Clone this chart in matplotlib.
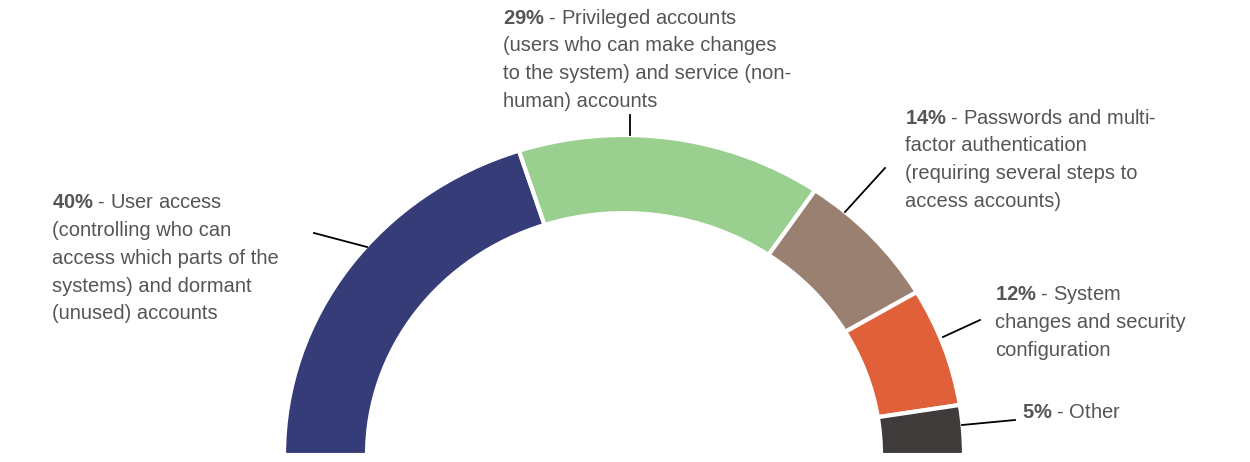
import matplotlib.pyplot as plt
from matplotlib.patches import Wedge
from matplotlib.transforms import Affine2D

plt.rcParams["font.family"] = "Liberation Sans"
plt.rcParams["mathtext.fontset"] = "custom"
plt.rcParams["mathtext.bf"] = "Liberation Sans:bold"
plt.rcParams["mathtext.rm"] = "Liberation Sans"

W, H = 1250, 462

shares = [40, 29, 14, 12, 5]
colors = ["#353c78", "#99cf8f", "#9a8070", "#e0603a", "#403b3b"]
labels = [
    "User access\n(controlling who can\naccess which parts of the\nsystems) and dormant\n(unused) accounts",
    "Privileged accounts\n(users who can make changes\nto the system) and service (non-\nhuman) accounts",
    "Passwords and multi-\nfactor authentication\n(requiring several steps to\naccess accounts)",
    "System\nchanges and security\nconfiguration",
    "Other",
]
# label top-left positions (pixels) and leader lines (pixels)
label_pos = [(52, 193), (503, 8), (905, 108), (995, 285), (1022, 403)]
leaders = [((314, 233), (367, 247)), ((630, 115), (630, 135)),
           ((885, 168), (845, 212)), ((980, 320), (943, 337)),
           ((1015, 420), (962, 425))]

fig = plt.figure(figsize=(W / 100, H / 100), dpi=100)
ax = fig.add_axes([0, 0, 1, 1])
ax.set_xlim(0, W)
ax.set_ylim(0, H)
ax.axis("off")

tr = Affine2D().scale(1, 320 / 340).translate(624, H - 455) + ax.transData
start = 180.0
for s, c in zip(shares, colors):
    span = s / sum(shares) * 180
    ax.add_patch(Wedge((0, 0), 340, start - span, start, width=83,
                       facecolor=c, edgecolor="white", linewidth=3, transform=tr))
    start -= span

for s, lab, (x, y), (p1, p2) in zip(shares, labels, label_pos, leaders):
    ax.plot([p1[0], p2[0]], [H - p1[1], H - p2[1]], color="black", lw=1.3)
    lines = lab.split("\n")
    lines[0] = r"$\bf{" + str(s) + r"\%}$ - " + lines[0]
    for i, ln in enumerate(lines):
        ax.text(x, H - y - 10 - i * 27.7, ln, fontsize=14.5, color="#555555",
                ha="left", va="center")

fig.savefig("out.png", dpi=100)
